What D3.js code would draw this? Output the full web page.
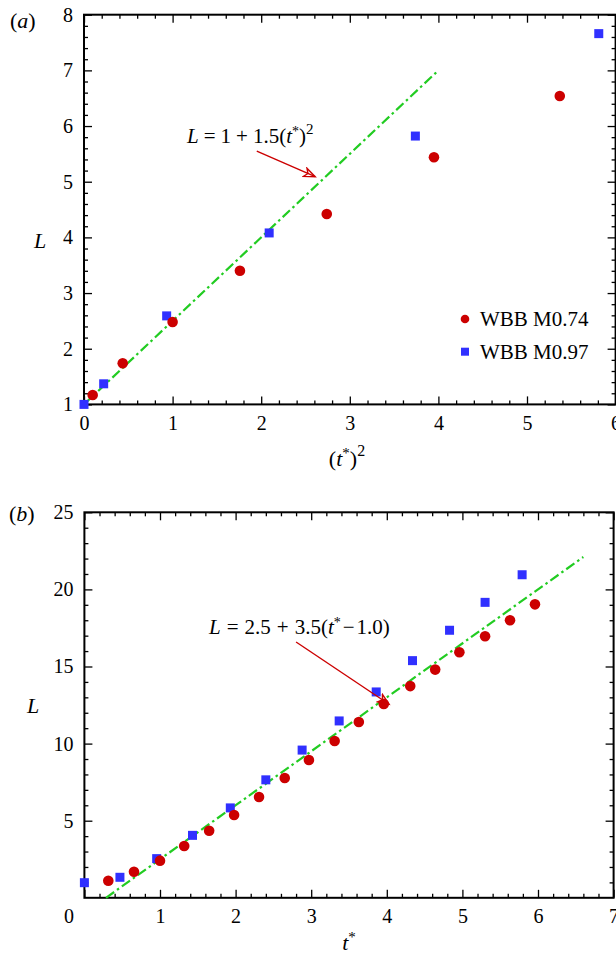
<!DOCTYPE html>
<html><head><meta charset="utf-8">
<script src="https://cdn.jsdelivr.net/npm/d3@7"></script>
<style>
body{margin:0;background:#fff}
svg{display:block}
text{font-family:"Liberation Serif","Times New Roman",serif;fill:#000}
</style>
</head><body>
<svg id="c" width="616" height="954"></svg>
<script>
// ---------- DATA ----------
// Panel (a): L vs (t*)^2
const aRedX  = [0.098, 0.437, 1.00, 1.76, 2.74, 3.95, 5.37];
const aRedY  = [1.17, 1.74, 2.48, 3.40, 4.42, 5.44, 6.54];
const aBlueX = [0.00, 0.222, 0.933, 2.09, 3.74, 5.81];
const aBlueY = [1.00, 1.37, 2.59, 4.08, 5.82, 7.66];
const aFitX  = [0, 4];            // L = 1 + 1.5 (t*)^2
const aXTicks = [0, 1, 2, 3, 4, 5, 6];
const aYTicks = [1, 2, 3, 4, 5, 6, 7, 8];
// Panel (b): L vs t*
const bRedX  = [0.316, 0.656, 1.00, 1.32, 1.65, 1.98, 2.31, 2.65, 2.97, 3.31, 3.63, 3.96, 4.31, 4.64, 4.96, 5.30, 5.63, 5.96];
const bRedY  = [1.11, 1.69, 2.41, 3.36, 4.35, 5.37, 6.54, 7.77, 8.94, 10.17, 11.40, 12.57, 13.73, 14.80, 15.92, 16.96, 18.00, 19.03];
const bBlueX = [0.00, 0.47, 0.956, 1.43, 1.93, 2.40, 2.88, 3.37, 3.86, 4.34, 4.83, 5.30, 5.79];
const bBlueY = [0.98, 1.33, 2.54, 4.05, 5.83, 7.65, 9.58, 11.47, 13.35, 15.38, 17.35, 19.16, 20.95];
const bFitX  = [1 - 2.5/3.5, 6.6]; // L = 2.5 + 3.5 (t* - 1.0), starting where L = 0
const bXTicks = [0, 1, 2, 3, 4, 5, 6, 7];
const bYTicks = [5, 10, 15, 20, 25];
const legendLabels = ["WBB M0.74", "WBB M0.97"];

const RED = "#cc0000", BLUE = "#3030ff", GREEN = "#22cc22";

const svg = d3.select("#c");
const defs = svg.append("defs");
defs.append("marker").attr("id","arr").attr("viewBox","-12 -6 14 12")
  .attr("refX",0).attr("refY",0).attr("markerWidth",14).attr("markerHeight",12)
  .attr("markerUnits","userSpaceOnUse").attr("orient","auto")
  .append("path").attr("d","M-11,-4.5 L0,0 L-11,4.5 L-8,0 Z")
  .attr("fill","none").attr("stroke",RED).attr("stroke-width",1.4);

function panel(o){
  const x = d3.scaleLinear().domain(o.xd).range([o.left, o.right]);
  const y = d3.scaleLinear().domain(o.yd).range([o.bottom, o.top]);
  const g = svg.append("g");
  const fs = 20;
  const ax = (gen, tr, vals, size, fmt, pad) => {
    const a = g.append("g").attr("transform", tr)
      .call(gen.tickValues(vals).tickSize(size).tickPadding(pad||10).tickFormat(fmt));
    a.select(".domain").remove();
    a.selectAll("line").attr("stroke","#000").attr("stroke-width",1.3);
    a.selectAll("text").attr("font-size",fs).attr("font-family","Liberation Serif").attr("fill","#000");
    return a;
  };
  const none = () => "";
  const xb = ax(d3.axisBottom(x), `translate(0,${o.bottom})`, o.xMajor, -8, o.xFmt, 11);
  ax(d3.axisBottom(x), `translate(0,${o.bottom})`, o.xMinor, -4, none);
  ax(d3.axisTop(x), `translate(0,${o.top})`, o.xMajor, -8, none);
  ax(d3.axisTop(x), `translate(0,${o.top})`, o.xMinor, -4, none);
  ax(d3.axisLeft(y), `translate(${o.left},0)`, o.yMajor, -8, d3.format("d"), 11);
  ax(d3.axisLeft(y), `translate(${o.left},0)`, o.yMinor, -4, none);
  ax(d3.axisRight(y), `translate(${o.right},0)`, o.yMajor, -8, none);
  ax(d3.axisRight(y), `translate(${o.right},0)`, o.yMinor, -4, none);
  if (o.shiftZero) xb.selectAll(".tick").filter(d => d === 0).select("text").attr("dx", o.shiftZero);
  g.append("rect").attr("x",o.left).attr("y",o.top).attr("width",o.right-o.left).attr("height",o.bottom-o.top)
    .attr("fill","none").attr("stroke","#000").attr("stroke-width",2);
  g.append("path").datum(o.fitX)
    .attr("d", d3.line().x(d => x(d)).y(d => y(o.fit(d))))
    .attr("fill","none").attr("stroke",GREEN).attr("stroke-width",2.2)
    .attr("stroke-dasharray","10,3.5,2.5,3.5");
  g.selectAll(".sq").data(o.blueX.map((v,i)=>[v,o.blueY[i]])).join("rect")
    .attr("x", d => x(d[0]) - 4.5).attr("y", d => y(d[1]) - 4.5)
    .attr("width",9).attr("height",9).attr("fill",BLUE);
  g.selectAll(".ci").data(o.redX.map((v,i)=>[v,o.redY[i]])).join("circle")
    .attr("cx", d => x(d[0])).attr("cy", d => y(d[1])).attr("r",5.3).attr("fill",RED);
  g.append("line").attr("x1",x(o.arrow[0])).attr("y1",y(o.arrow[1]))
    .attr("x2",x(o.arrow[2])).attr("y2",y(o.arrow[3]))
    .attr("stroke",RED).attr("stroke-width",1.4).attr("marker-end","url(#arr)");
  return {x, y, g};
}

function rich(parent, x, y, parts, fs, anchor){
  const t = parent.append("text").attr("x",x).attr("y",y).attr("font-size",fs)
    .attr("text-anchor",anchor||"start");
  parts.forEach(p => {
    const s = t.append("tspan").text(p.t);
    if (p.i) s.attr("font-style","italic");
    if (p.dy) s.attr("dy",p.dy);
    if (p.dx) s.attr("dx",p.dx);
    if (p.fs) s.attr("font-size",p.fs);
  });
  return t;
}

const A = panel({
  xd:[0,6], yd:[1,8], left:84, right:615.6, top:14.7, bottom:404.4,
  xMajor:aXTicks, xMinor:d3.range(0,6.001,0.2).filter(v=>Math.abs(v-Math.round(v))>1e-6),
  yMajor:aYTicks, yMinor:d3.range(1,8.001,0.2).filter(v=>Math.abs(v-Math.round(v))>1e-6),
  xFmt:d3.format("d"),
  redX:aRedX, redY:aRedY, blueX:aBlueX, blueY:aBlueY,
  fitX:aFitX, fit:t=>1+1.5*t,
  arrow:[1.95,5.55,2.61,5.09]
});
const B = panel({
  xd:[0,7], yd:[0,25], left:84.4, right:613.6, top:512.3, bottom:897.8,
  xMajor:bXTicks, xMinor:d3.range(0,7.001,0.2).filter(v=>Math.abs(v-Math.round(v))>1e-6),
  yMajor:bYTicks, yMinor:d3.range(0,25.001,1).filter(v=>v%5!==0),
  xFmt:d3.format("d"), shiftZero:-16,
  redX:bRedX, redY:bRedY, blueX:bBlueX, blueY:bBlueY,
  fitX:bFitX, fit:t=>2.5+3.5*(t-1.0),
  arrow:[2.80,16.59,4.03,12.55]
});

// Panel labels
rich(svg, 10, 28, [{t:"("},{t:"a",i:1},{t:")"}], 22);
rich(svg, 9, 521, [{t:"("},{t:"b",i:1},{t:")"}], 22);
// Axis titles
rich(svg, 40, 248, [{t:"L",i:1}], 22, "middle");
rich(svg, 33, 713, [{t:"L",i:1}], 22, "middle");
rich(svg, 347, 466, [{t:"("},{t:"t",i:1},{t:"*",dy:-8,fs:15},{t:")",dy:8},{t:"2",dy:-10,fs:16}], 22, "middle");
rich(svg, 349, 950, [{t:"t",i:1},{t:"*",dy:-8,fs:15}], 22, "middle");
// Equations
rich(svg, 187, 143, [{t:"L",i:1},{t:"=",dx:5},{t:"1",dx:5},{t:"+",dx:5},{t:"1.5(",dx:5},
  {t:"t",i:1},{t:"*",dy:-7,fs:14},{t:")",dy:7},{t:"2",dy:-9,fs:15}], 21);
rich(svg, 209, 634, [{t:"L",i:1},{t:"=",dx:6},{t:"2.5",dx:6},{t:"+",dx:6},{t:"3.5(",dx:6},
  {t:"t",i:1},{t:"*",dy:-7,fs:14},{t:"\u2212",dy:7,dx:2},{t:"1.0)",dx:2}], 21);

// Legend
const lg = svg.append("g");
lg.append("circle").attr("cx",465).attr("cy",319).attr("r",4.3).attr("fill",RED);
lg.append("rect").attr("x",461).attr("y",347.7).attr("width",8).attr("height",8).attr("fill",BLUE);
lg.append("text").attr("x",480).attr("y",326).attr("font-size",21).text(legendLabels[0]);
lg.append("text").attr("x",480).attr("y",358.5).attr("font-size",21).text(legendLabels[1]);
</script>
</body></html>
